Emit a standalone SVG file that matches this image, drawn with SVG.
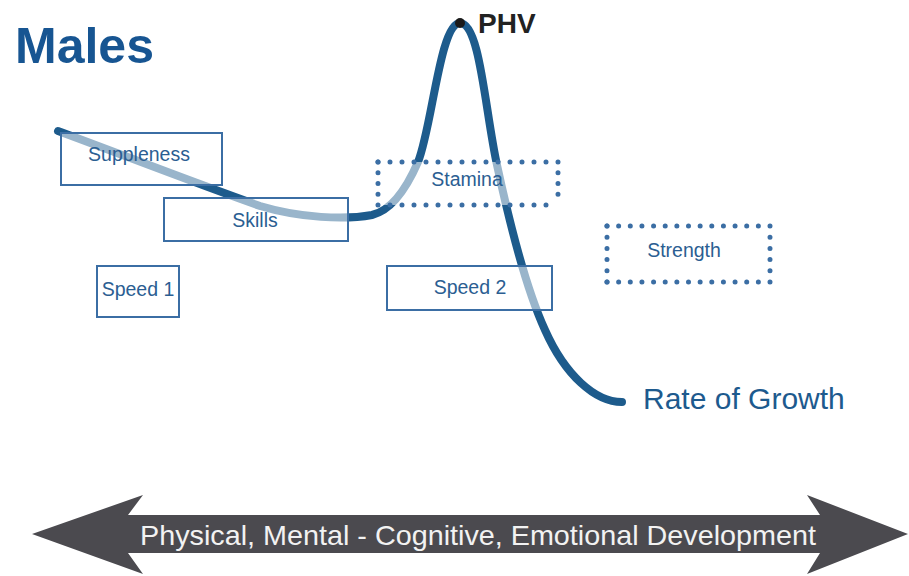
<svg xmlns="http://www.w3.org/2000/svg" width="909" height="576" viewBox="0 0 909 576">
<style>
.lbl{font-family:"Liberation Sans",Arial,sans-serif;font-size:19.5px;fill:#2b5e92;text-anchor:middle}
.box{fill:#ffffff;fill-opacity:0.55;stroke:#3b6ea4;stroke-width:2}
.dotfill{fill:#ffffff;fill-opacity:0.55;stroke:none}
.dot{stroke:#3b6ea4;stroke-width:5;stroke-linecap:round;stroke-dasharray:0 1;fill:none}
</style>
<rect width="909" height="576" fill="#ffffff"/>
<text x="15" y="63" font-family="'Liberation Sans',Arial,sans-serif" font-size="50" font-weight="bold" fill="#175592">Males</text>

<g id="connectors">
<path id="growth-curve" d="M58,131 C110,150 200,185 260,206 C300,218 345,220 372,215 C393,210 408,185 418,162 C432,128 440,23 460,23 C480,23 485,110 497,165 C505,202 522,280 545,330 C565,375 595,402 622,402" fill="none" stroke="#1d5b8c" stroke-width="8" stroke-linecap="round" stroke-linejoin="round"/>
</g>

<g id="suppleness">
<rect class="box" x="61" y="133" width="161" height="52"/>
<text class="lbl" x="139" y="161">Suppleness</text>
</g>
<g id="skills">
<rect class="box" x="164" y="198" width="184" height="43"/>
<text class="lbl" x="255" y="227">Skills</text>
</g>
<g id="speed1">
<rect class="box" x="97" y="266" width="82" height="51"/>
<text class="lbl" x="138" y="296">Speed 1</text>
</g>
<g id="stamina">
<rect class="dotfill" x="378" y="162" width="180" height="43"/>
<line class="dot" x1="378" y1="162" x2="558" y2="162" pathLength="15"/>
<line class="dot" x1="378" y1="205" x2="558" y2="205" pathLength="15"/>
<line class="dot" x1="378" y1="162" x2="378" y2="205" pathLength="4"/>
<line class="dot" x1="558" y1="162" x2="558" y2="205" pathLength="4"/>
<text class="lbl" x="467" y="186">Stamina</text>
</g>
<g id="speed2">
<rect class="box" x="387" y="266" width="165" height="44"/>
<text class="lbl" x="470" y="294">Speed 2</text>
</g>
<g id="strength">
<rect class="dotfill" x="607" y="226" width="163" height="56"/>
<line class="dot" x1="607" y1="226" x2="770" y2="226" pathLength="14"/>
<line class="dot" x1="607" y1="282" x2="770" y2="282" pathLength="14"/>
<line class="dot" x1="607" y1="226" x2="607" y2="282" pathLength="5"/>
<line class="dot" x1="770" y1="226" x2="770" y2="282" pathLength="5"/>
<text class="lbl" x="684" y="257">Strength</text>
</g>
<g id="phv">
<circle cx="460" cy="23" r="5" fill="#1a1a1a"/>
<text x="478" y="33" font-family="'Liberation Sans',Arial,sans-serif" font-size="28" font-weight="bold" fill="#222222">PHV</text>
</g>
<g id="rate-of-growth">
<text x="643" y="409" font-family="'Liberation Sans',Arial,sans-serif" font-size="30" fill="#1d5a8e">Rate of Growth</text>
</g>
<g id="development-arrow">
<polygon points="32,534 143,495 128,515 820,515 807,495 908,534 807,574 820,553 128,553 143,574" fill="#4b4a4f"/>
<text x="140" y="545" font-family="'Liberation Sans',Arial,sans-serif" font-size="28" fill="#f2f2f2" textLength="676" lengthAdjust="spacingAndGlyphs">Physical, Mental - Cognitive, Emotional Development</text>
</g>
</svg>
